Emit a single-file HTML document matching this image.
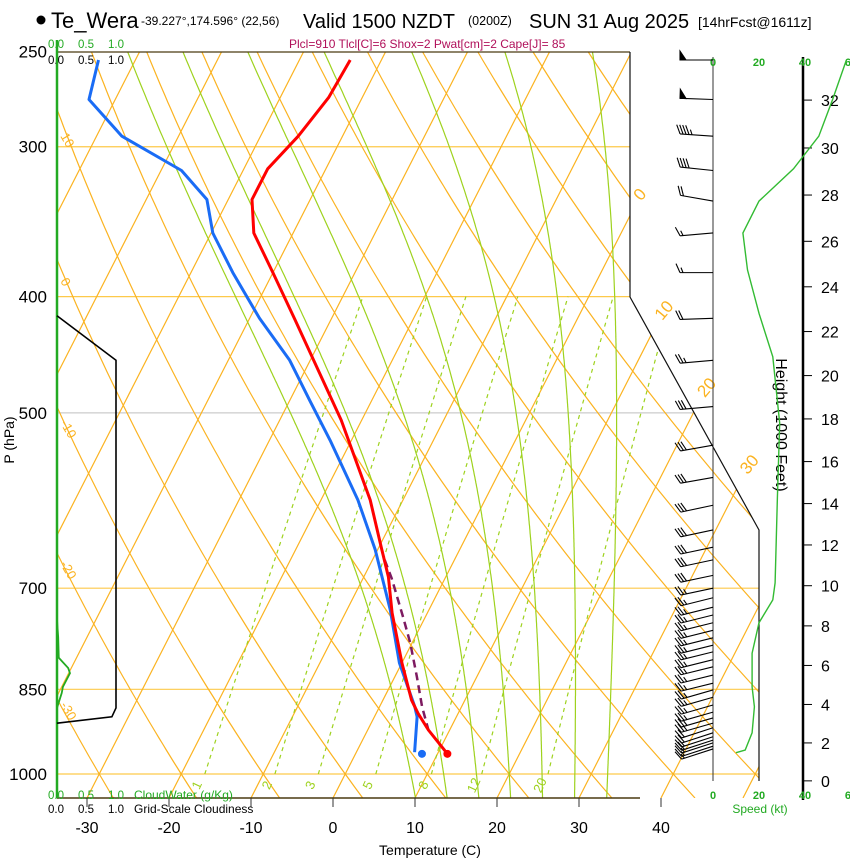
<!DOCTYPE html>
<html><head><meta charset="utf-8"><style>
html,body{margin:0;padding:0;background:#fff;}
svg{display:block;font-family:"Liberation Sans",Arial,sans-serif;}
</style></head><body>
<svg id="chart" width="850" height="860" viewBox="0 0 850 860" xmlns="http://www.w3.org/2000/svg">
<defs><clipPath id="plotclip"><polygon points="57,52 630,52 630,297 759,530 759,798 57,798"/></clipPath></defs>
<g id="grid" clip-path="url(#plotclip)"></g>
<g id="overlay"></g>
<g>
<circle cx="41" cy="20" r="4.5" fill="#000"/>
<text x="51" y="28" font-size="22" fill="#000">Te_Wera</text>
<text x="141" y="25" font-size="12" fill="#000">-39.227°,174.596° (22,56)</text>
<text x="303" y="28" font-size="20" fill="#000">Valid 1500 NZDT</text>
<text x="468" y="25" font-size="12.5" fill="#000">(0200Z)</text>
<text x="529" y="28" font-size="20" fill="#000">SUN 31 Aug 2025</text>
<text x="698" y="27" font-size="14" fill="#000">[14hrFcst@1611z]</text>
<text x="289" y="48" font-size="12" fill="#b0105a">Plcl=910 Tlcl[C]=6 Shox=2 Pwat[cm]=2 Cape[J]= 85</text>
</g>
</svg>
<script>
// ---- data ----
const isobarLevels=[250,300,400,500,700,850,1000];
const tempP=[254,273,294,313,332,354,382,418,507,591,650,685,734,808,868,890,919,962];
const tempT=[-43.8,-44.1,-45.4,-47.1,-47.1,-44.8,-40.0,-34.4,-22.5,-14.0,-9.5,-7.0,-4.3,0.0,3.5,5.1,7.4,11.2];
const dewP=[254,274,294,314,332,354,382,417,452,488,527,591,650,730,808,879,896,959];
const dewT=[-74.5,-73.2,-66.9,-57.5,-52.6,-49.8,-44.9,-38.8,-32.5,-27.6,-22.6,-15.5,-10.3,-4.7,-0.3,4.3,5.2,7.1];
const parcelP=[663,687,740,778,830,879,919,962];
const parcelT=[-8.5,-6.5,-2.7,-0.2,2.7,5.2,7.4,11.2];
const surfTemp=11.2, surfDew=8.1, surfP=962;
const cloudWaterP=[250,744,769,800,816,824,846,856,881,964];
const cloudWaterV=[0,0,0.02,0.03,0.19,0.22,0.1,0.08,0,0];
const cloudinessP=[415,452,881,896,907];
const cloudinessV=[0,1.0,1.0,0.93,0];
const speedP=[254,274,294,313,333,354,380,413,449,510,588,693,716,748,793,846,879,924,955,960];
const speedKt=[58,52,46,35,20,13,15,20,26,29,28,27,26,20,17,17,18,17,14,10];
const barbP=[254,274,294,314,333,354,382,417,452,494,532,566,597,626,647,663,683,700,713,726,737,748,759,770,781,791,803,814,827,840,851,863,876,888,898,907,915,924,931,937,942,948,953];
const barbKt=[50,50,45,40,20,15,15,20,25,30,30,30,30,30,30,30,30,25,25,25,25,25,25,25,25,25,25,25,25,25,25,25,25,25,25,25,20,20,20,20,15,15,15];
const barbDir=[270,272,274,276,280,265,270,268,265,265,260,260,258,258,258,258,258,258,256,256,256,256,256,256,256,256,256,256,256,256,254,254,254,254,254,254,252,252,252,252,252,252,252];
const isothermLabels=[0,10,20,30];
const dryLabels=[10,0,-10,-20,-30];
const mixRatios=[1,2,3,5,8,12,20];
const moistThetaW=[8,12,16,20,24,28,32];
const tempTicks=[-30,-20,-10,0,10,20,30,40];
const heightTicks=[0,2,4,6,8,10,12,14,16,18,20,22,24,26,28,30,32];
const speedTicks=[0,20,40,60];

// ---- axes ----
const NS="http://www.w3.org/2000/svg";
function yP(p){return 774-521*Math.log(1000/p);}
function pY(y){return 1000*Math.exp(-(774-y)/521);}
function xT(T,y){return 333+8.2*T+0.51*(798-y);}
function xCloud(v){return 57+v*59;}
function xSpd(k){return 713+k*2.3;}
function yH(kft){var p=1013.25*Math.pow(1-kft*1000/145366,5.2553);return yP(p);}
function el(tag,attrs,parent){var e=document.createElementNS(NS,tag);for(var k in attrs)e.setAttribute(k,attrs[k]);parent.appendChild(e);return e;}
const grid=document.getElementById('grid'), ov=document.getElementById('overlay');
const ORANGE="#fbb321", GREEN="#9ed21e";

// isobars
isobarLevels.forEach(function(p){
  var l=el('line',{x1:57,x2:760,y1:yP(p),y2:yP(p),stroke:(p==500?"#cccccc":"#fdc94a"),'stroke-width':1.2},grid);
  
  
});
// isotherms
for(var T=-110;T<=50;T+=10){
  var l=el('line',{x1:xT(T,798),y1:798,x2:xT(T,40),y2:40,stroke:ORANGE,'stroke-width':1.2},grid);
  
  
}
// dry adiabats
function dryPts(th){var a=[];for(var y=798;y>=40;y-=6){var p=pY(y);var t=(th+273.15)*Math.pow(p/1000,0.2857)-273.15;a.push(xT(t,y).toFixed(1)+','+y);}return a.join(' ');}
for(var th=-50;th<=220;th+=10){
  var l=el('polyline',{points:dryPts(th),fill:'none',stroke:ORANGE,'stroke-width':1.2},grid);
  
  
}
// moist adiabats
function es(t){return 6.112*Math.exp(17.67*t/(t+243.5));}
function moistRate(p,t){var Tk=t+273.15,e=es(t),rs=0.622*e/(p-e),Lv=2.501e6,Rd=287.04,cp=1005.7;
  return (1/p)*(Rd*Tk+Lv*rs)/(cp+Lv*Lv*rs*0.622/(Rd*Tk*Tk));}
function moistPts(tw){var pts=[],t=tw,p=1000,dp=2;
  var down=[];var tt=tw;for(var pp=1000;pp<=1050;pp+=dp){down.push([pp,tt]);tt+=moistRate(pp,tt)*dp;}
  down.reverse().forEach(function(q){pts.push(q);});
  t=tw;for(p=1000;p>=240;p-=dp){t-=moistRate(p,t)*dp;pts.push([p-dp,t]);}
  return pts.map(function(q){var y=yP(q[0]);return xT(q[1],y).toFixed(1)+','+y.toFixed(1);}).join(' ');}
moistThetaW.forEach(function(tw){
  var l=el('polyline',{points:moistPts(tw),fill:'none',stroke:GREEN,'stroke-width':1.2},grid);
  
  
});
// mixing ratio lines
function tdFromW(w,p){var e=w*p/(622+w);var a=Math.log(e/6.112);return 243.5*a/(17.67-a);}
mixRatios.forEach(function(w){
  var pts=[];for(var p=1000;p>=400;p-=10){var y=yP(p);pts.push(xT(tdFromW(w,p),y).toFixed(1)+','+y.toFixed(1));}
  var l=el('polyline',{points:pts.join(' '),fill:'none',stroke:GREEN,'stroke-width':1.2,'stroke-dasharray':'4,4'},grid);
  
  
  var y0=yP(1000)+13, x0=xT(tdFromW(w,1000),yP(1000))-4;
  var tx=el('text',{x:x0,y:y0,'font-size':13,fill:GREEN,transform:'rotate(-65 '+x0+' '+y0+')','text-anchor':'middle'},ov);
  tx.textContent=w;
  
  
});
// isotherm labels
isothermLabels.forEach(function(T){
  var yi;
  var yv=798-(630-333-8.2*T)/0.51;
  if(yv<=297) yi=yv; else yi=(274.4+8.2*T)/1.0636;
  var y=yi-14,x=xT(T,y)+4;
  var tx=el('text',{x:x,y:y,'font-size':17,fill:ORANGE,transform:'rotate(-50 '+x+' '+y+')'},ov);
  tx.textContent=T;
  
  
});
// dry adiabat labels
dryLabels.forEach(function(th,i){
  var yy=798;for(var y=798;y>=52;y--){var t=(th+273.15)*Math.pow(pY(y)/1000,0.2857)-273.15;if(xT(t,y)<=62){yy=y;break;}}
  var x=60,y=yy+14-i*4;
  var tx=el('text',{x:x,y:y,'font-size':13,fill:ORANGE,transform:'rotate(60 '+x+' '+y+')'},ov);
  tx.textContent=th;
  
  
});

// frame
el('line',{x1:57,y1:52,x2:630,y2:52,stroke:'#4a3a10','stroke-width':1.2},ov);
el('polyline',{points:'630,52 630,297 759,530 759,781',fill:'none',stroke:'#111','stroke-width':1.2},ov);
el('line',{x1:57,y1:798,x2:640,y2:798,stroke:'#4a3a10','stroke-width':1.5},ov);
var axl=el('line',{x1:57,y1:40,x2:57,y2:798,stroke:'#22aa22','stroke-width':2.5},ov);


tempTicks.forEach(function(T){
  var x=xT(T,798);
  el('line',{x1:x,y1:798,x2:x,y2:807,stroke:'#333','stroke-width':1},ov);
  var tx=el('text',{x:x,y:833,'font-size':16,'text-anchor':'middle',fill:'#000'},ov);
  tx.textContent=T;
  
  
});
isobarLevels.forEach(function(p){
  var tx=el('text',{x:47,y:yP(p)+6,'font-size':17,'text-anchor':'end',fill:'#000'},ov);
  tx.textContent=p;
  
  
});
var t1=el('text',{x:430,y:855,'font-size':14,'text-anchor':'middle',fill:'#000'},ov);t1.textContent='Temperature (C)';


var t2=el('text',{x:14,y:440,'font-size':14,'text-anchor':'middle',fill:'#000',transform:'rotate(-90 14 440)'},ov);t2.textContent='P (hPa)';


// cloud scales
[['0.0',48],['0.5',78],['1.0',108]].forEach(function(a){
  var g=el('text',{x:a[1],y:48,'font-size':11.5,fill:'#22aa22'},ov);g.textContent=a[0];
  var b=el('text',{x:a[1],y:64,'font-size':11.5,fill:'#000'},ov);b.textContent=a[0];
  var g2=el('text',{x:a[1],y:799,'font-size':11.5,fill:'#22aa22'},ov);g2.textContent=a[0];
  var b2=el('text',{x:a[1],y:813,'font-size':11.5,fill:'#000'},ov);b2.textContent=a[0];
});
var cwl=el('text',{x:134,y:799,'font-size':12,fill:'#22aa22'},ov);cwl.textContent='CloudWater (g/Kg)';


var gcl=el('text',{x:134,y:813,'font-size':12,fill:'#000'},ov);gcl.textContent='Grid-Scale Cloudiness';



// cloud profiles
var cw=el('polyline',{points:cloudWaterP.map(function(p,i){return xCloud(cloudWaterV[i])+','+yP(p);}).join(' '),fill:'none',stroke:'#22aa22','stroke-width':1.8},ov);


var cl=el('polyline',{points:cloudinessP.map(function(p,i){return xCloud(cloudinessV[i])+','+yP(p);}).join(' '),fill:'none',stroke:'#000','stroke-width':1.6},ov);



// soundings
function profPts(P,T){return P.map(function(p,i){var y=yP(p);return xT(T[i],y).toFixed(1)+','+y.toFixed(1);}).join(' ');}
var pc=el('polyline',{points:profPts(parcelP,parcelT),fill:'none',stroke:'#7d1a60','stroke-width':2.5,'stroke-dasharray':'8,5'},ov);


var dl=el('polyline',{points:profPts(dewP,dewT),fill:'none',stroke:'#1a6cf5','stroke-width':3,'stroke-linejoin':'round'},ov);


var tl=el('polyline',{points:profPts(tempP,tempT),fill:'none',stroke:'#ff0000','stroke-width':3,'stroke-linejoin':'round'},ov);


var sy=yP(surfP);
var dd=el('circle',{cx:xT(surfDew,sy),cy:sy,r:4,fill:'#1a6cf5'},ov);


var td=el('circle',{cx:xT(surfTemp,sy),cy:sy,r:4,fill:'#ff0000'},ov);



// right panel
el('line',{x1:713,y1:57,x2:713,y2:781,stroke:'#333','stroke-width':1},ov);
el('line',{x1:803,y1:57,x2:803,y2:800,stroke:'#000','stroke-width':2.5},ov);
heightTicks.forEach(function(h){
  var y=yH(h);
  el('line',{x1:803,y1:y,x2:812,y2:y,stroke:'#000','stroke-width':1},ov);
  var tx=el('text',{x:821,y:y+6,'font-size':16,fill:'#000'},ov);tx.textContent=h;
  
  
});
var ht=el('text',{x:776,y:425,'font-size':16,'text-anchor':'middle',fill:'#000',transform:'rotate(90 776 425)'},ov);ht.textContent='Height (1000 Feet)';


speedTicks.forEach(function(k){
  [66,799].forEach(function(y){
    var tx=el('text',{x:xSpd(k),y:y,'font-size':11,'font-weight':'bold','text-anchor':'middle',fill:'#22aa22'},ov);tx.textContent=k;
    
    
  });
});
var sl=el('text',{x:760,y:813,'font-size':12,'text-anchor':'middle',fill:'#22aa22'},ov);sl.textContent='Speed (kt)';


var sp=el('polyline',{points:speedP.map(function(p,i){return xSpd(speedKt[i]).toFixed(1)+','+yP(p).toFixed(1);}).join(' '),fill:'none',stroke:'#33bb33','stroke-width':1.4},ov);



// wind barbs
barbP.forEach(function(p,i){
  var y=yP(p),bx=713,d=barbDir[i]*Math.PI/180;
  var ux=Math.sin(d),uy=-Math.cos(d);
  var tx=bx+ux*33,ty=y+uy*33;
  var g=el('g',{stroke:'#000','stroke-width':1.1,fill:'#000'},ov);
  
  
  el('line',{x1:bx,y1:y,x2:tx,y2:ty},g);
  var px=-uy,py=ux;
  if(py>0){px=-px;py=-py;}
  var s=barbKt[i],pos=0;
  while(s>=50){var ax=tx-ux*pos,ay=ty-uy*pos;
    el('polygon',{points:ax+','+ay+' '+(ax+px*9)+','+(ay+py*9)+' '+(ax-ux*6)+','+(ay-uy*6)},g);pos+=7;s-=50;}
  while(s>=10){var ax=tx-ux*pos,ay=ty-uy*pos;
    el('line',{x1:ax,y1:ay,x2:ax+px*9+ux*4,y2:ay+py*9+uy*4},g);pos+=3;s-=10;}
  if(s>=5){var ax=tx-ux*pos,ay=ty-uy*pos;
    el('line',{x1:ax,y1:ay,x2:ax+px*5+ux*2,y2:ay+py*5+uy*2},g);}
});
</script>
</body></html>
